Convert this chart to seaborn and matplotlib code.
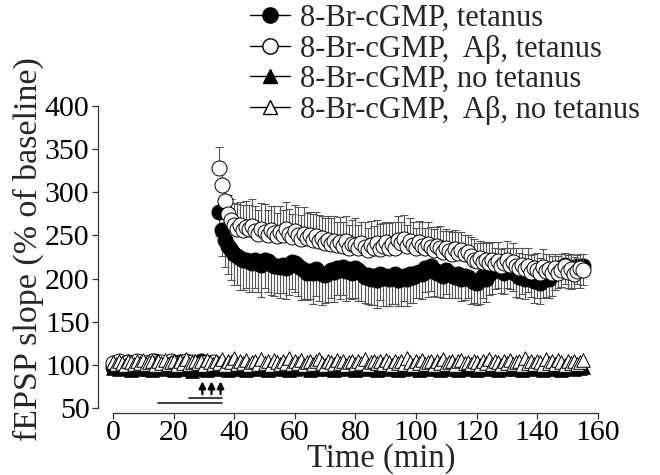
import numpy as np
import matplotlib
matplotlib.use("Agg")
import matplotlib.pyplot as plt
from matplotlib.lines import Line2D
import seaborn as sns

# ---------------- data ----------------
t_base = list(range(0, 34))        # baseline minutes (tetanus groups)
t_post = list(range(35, 156))      # post-tetanus minutes
t_all = list(range(0, 156))        # no-tetanus groups

f_base = [98,101,99,97,100,102,99,96,100,103,98,101,97,100,104,99,98,102,100,97,
          101,99,103,98,100,102,99,97,101,104,100,98,102,99]
o_base = [102,99,104,100,97,103,101,98,105,100,96,102,99,104,101,97,103,100,98,105,
          102,99,101,97,104,100,103,98,101,99,102,100,97,103]
f_base_err = [4,5,3,6,4,5,3,4,6,5,4,3,5,6,4,5,3,4,5,6,4,3,5,4,6,5,3,4,5,4,6,3,5,4]
o_base_err = [5,4,6,3,5,4,6,5,3,4,6,5,4,3,5,6,4,5,3,4,6,5,4,6,3,5,4,6,5,3,4,5,6,4]

f_post = [277,256,245,238,233,228,226,224,222,222,
          220,218,221,219,216,222,220,217,214,215,
          213,216,212,215,219,218,215,212,210,207,
          209,206,211,208,205,204,207,210,208,212,
          210,213,209,211,207,212,210,206,202,204,
          200,203,198,205,201,203,199,202,205,198,
          200,203,199,205,202,206,208,205,212,209,
          214,210,206,208,203,210,207,204,202,205,
          200,203,202,198,196,195,199,203,200,205,
          208,211,214,210,206,211,213,209,205,202,
          204,200,206,202,197,200,195,198,202,199,
          204,208,212,210,216,213,209,212,214,211,
          214]
o_post = [328,308,290,275,268,262,258,262,256,260,
          257,261,255,252,258,254,250,256,253,249,
          254,251,257,252,248,255,250,246,252,247,
          250,245,249,243,247,241,245,240,244,239,
          242,238,243,236,240,239,235,241,237,233,
          239,236,241,234,238,242,236,240,235,245,
          241,246,238,243,239,236,242,238,235,240,
          237,233,238,235,231,236,232,229,234,230,
          233,228,231,226,222,220,224,219,222,218,
          221,217,220,214,218,222,216,219,215,212,
          216,211,214,208,212,210,206,213,209,211,
          207,212,206,210,214,208,211,205,209,212,
          210]
f_post_err = [28,30,32,33,35,36,34,37,35,33,
              36,34,32,35,37,33,35,36,34,32,
              35,33,36,34,31,33,35,37,34,32,
              33,35,31,34,36,32,34,33,35,31,
              34,32,35,33,31,34,36,32,30,33,
              31,34,32,30,33,35,31,32,34,30,
              32,29,31,33,30,28,31,29,27,30,
              28,30,27,29,26,28,30,27,25,28,
              26,28,25,27,24,26,28,25,27,24,
              26,23,25,27,24,22,25,23,26,24,
              22,24,21,23,25,22,24,21,23,22,
              24,21,23,20,22,24,21,23,20,22,
              21]
o_post_err = [25,22,20,22,24,26,28,27,29,30,
              28,31,29,27,30,32,29,28,31,27,
              30,28,32,29,27,30,33,28,31,29,
              27,30,28,31,26,29,27,30,28,26,
              29,27,30,26,28,31,27,25,28,26,
              28,25,27,29,26,24,28,25,30,27,
              25,28,24,27,26,23,25,28,24,26,
              23,25,22,26,24,21,23,25,22,24,
              21,23,20,22,24,21,19,22,20,23,
              21,19,22,20,18,21,19,22,20,18,
              20,18,21,19,17,20,18,21,19,17,
              19,17,20,18,16,19,17,20,18,16,
              18]

ft_all = [96,98,95,97,99,96,94,97,98,95, 97,99,96,94,98,97,95,99,96,98,
          94,97,99,95,96,98,93,97,95,99, 96,94,98,97,95,99,96,97,94,98,
          96,95,99,97,94,98,96,97,95,99, 97,94,96,98,95,97,99,96,94,98,
          95,97,99,96,98,94,97,95,98,96, 99,95,97,94,96,98,97,95,99,96,
          94,98,96,97,95,99,96,94,98,97, 95,97,99,96,94,98,95,97,96,99,
          97,94,96,98,95,99,96,97,94,98, 96,95,98,97,94,99,96,95,97,98,
          94,97,96,99,95,98,96,94,97,95, 98,96,99,95,97,94,96,98,95,97,
          99,96,94,98,97,95,96,99,94,97, 96,98,95,97,96,98]
ot_all = [103,101,104,102,100,105,103,101,104,102, 106,101,103,105,100,104,102,106,101,103,
          104,100,105,102,107,101,103,105,102,104, 100,106,103,101,105,102,107,100,104,103,
          108,101,104,102,106,100,103,105,101,107, 102,104,100,106,103,101,105,102,108,101,
          104,102,106,100,103,105,101,104,107,102, 100,105,103,101,106,102,104,100,103,105,
          101,104,102,107,100,103,105,102,104,101, 106,103,100,105,102,104,101,108,103,100,
          104,102,106,101,103,105,100,104,102,107, 101,103,105,100,104,106,102,103,101,105,
          103,100,104,102,107,101,105,103,100,104, 102,106,101,103,105,100,108,102,104,101,
          105,103,100,107,102,104,101,106,103,100, 104,102,105,101,103,106]

labels = ["8-Br-cGMP, tetanus", "8-Br-cGMP,  A\u03b2, tetanus",
          "8-Br-cGMP, no tetanus", "8-Br-cGMP,  A\u03b2, no tetanus"]

tetanus_times = [29.5, 32.5, 35.5]
bar_drug = [15, 36, 56]      # start, end, level
bar_abeta = [25, 36, 61.5]
x_ticks = [0, 20, 40, 60, 80, 100, 120, 140, 160]
y_ticks = [50, 100, 150, 200, 250, 300, 350, 400]

# ---------------- style ----------------
sns.set_style("ticks")
plt.rcParams["font.family"] = ["Liberation Serif", "DejaVu Serif"]

fig = plt.figure(figsize=(6.6, 4.75), dpi=100)
ax_w = (603.9 - 97.85) / 660
ax = fig.add_axes([97.85 / 660, 0.1301, ax_w, 0.774])

t_f = t_base + t_post
f_vals = f_base + f_post
o_vals = o_base + o_post
f_err = f_base_err + f_post_err
o_err = o_base_err + o_post_err

ecol = "#555555"
ax.errorbar(t_f, f_vals, yerr=[f_err, [0] * len(f_err)], fmt="none",
            ecolor=ecol, elinewidth=0.8, capsize=3, capthick=0.8, zorder=2)
sns.scatterplot(x=t_f, y=f_vals, marker="o", s=117, color="black",
                edgecolor="black", linewidth=0.7, ax=ax, zorder=3)
ax.errorbar(t_f, o_vals, yerr=[[0] * len(o_err), o_err], fmt="none",
            ecolor=ecol, elinewidth=0.8, capsize=3, capthick=0.8, zorder=4)
sns.scatterplot(x=t_f, y=o_vals, marker="o", s=117, color="white",
                edgecolor="black", linewidth=0.7, ax=ax, zorder=5)
sns.scatterplot(x=t_all, y=ft_all, marker="^", s=95, color="black",
                edgecolor="black", linewidth=0.7, ax=ax, zorder=6)
sns.scatterplot(x=t_all, y=ot_all, marker="^", s=95, color="white",
                edgecolor="black", linewidth=0.7, ax=ax, zorder=7)

# drug application bars and tetanus arrows
ax.plot(bar_drug[:2], [bar_drug[2]] * 2, color="#333333", lw=1.3, zorder=1)
ax.plot(bar_abeta[:2], [bar_abeta[2]] * 2, color="#333333", lw=1.3, zorder=1)
for tt in tetanus_times:
    ax.annotate("", xy=(tt, 81), xytext=(tt, 66),
                arrowprops=dict(arrowstyle="-|>,head_length=0.4,head_width=0.2",
                                lw=1.6, color="black", shrinkA=0, shrinkB=0))

ax.set_xlim(-5, 162)
ax.set_ylim(44, 470)
ax.set_xticks(x_ticks)
ax.set_yticks(y_ticks)
ax.spines["left"].set_bounds(50, 400)
ax.spines["bottom"].set_bounds(0, 160)
ax.spines["top"].set_visible(False)
ax.spines["right"].set_visible(False)
for s in ("left", "bottom"):
    ax.spines[s].set_linewidth(0.9)
    ax.spines[s].set_color("#333333")
ax.tick_params(axis="both", labelsize=21.5, length=4, width=0.9, color="#333333",
               pad=2, labelcolor="black")
ax.tick_params(axis="x", pad=1)
ax.set_xlabel("Time (min)", fontsize=23.5)
ax.xaxis.set_label_coords((381 - 97.85) / (603.9 - 97.85), -(443 - 413.2) / 367.6)
ax.set_ylabel("fEPSP slope (% of baseline)", fontsize=24.5)
ax.yaxis.set_label_coords(-(97.85 - 44) / (603.9 - 97.85), (413.2 - 249) / 367.6)

handles = [
    Line2D([], [], color="black", lw=1, marker="o", markersize=11,
           markerfacecolor="black", markeredgecolor="black"),
    Line2D([], [], color="black", lw=1, marker="o", markersize=11,
           markerfacecolor="white", markeredgecolor="black"),
    Line2D([], [], color="black", lw=1, marker="^", markersize=10,
           markerfacecolor="black", markeredgecolor="black"),
    Line2D([], [], color="black", lw=1, marker="^", markersize=10,
           markerfacecolor="white", markeredgecolor="black"),
]
fig.legend(handles, labels, loc="upper left", bbox_to_anchor=(250 / 660, 1 - 4 / 475),
           frameon=False, fontsize=22, handlelength=1.3, handletextpad=0.35,
           labelspacing=0.05, borderpad=0, borderaxespad=0)

fig.savefig("out.png", dpi=100)
